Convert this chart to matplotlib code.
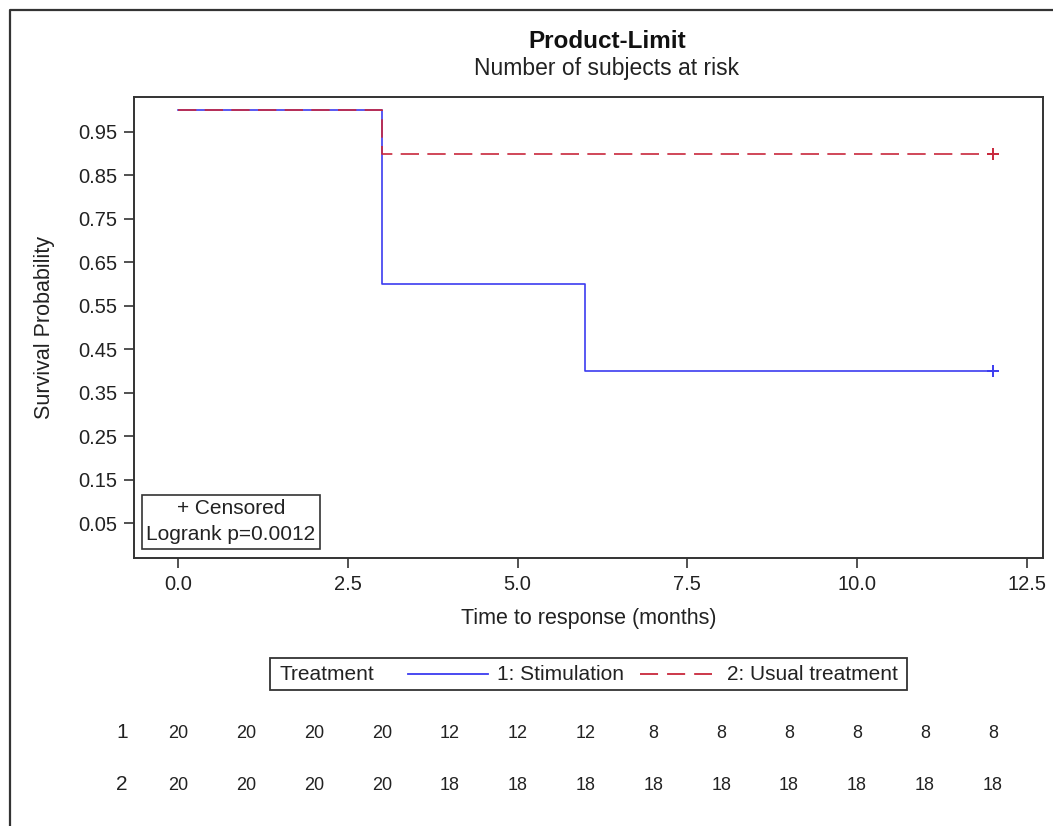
import matplotlib
matplotlib.use("Agg")
import matplotlib.pyplot as plt
from matplotlib.lines import Line2D
from matplotlib.patches import Rectangle
import matplotlib.transforms as mtransforms

plt.rcParams['font.family'] = ['Liberation Sans', 'DejaVu Sans']

# ---- data ----
times_stim = [0, 3, 6, 12]
surv_stim = [1.0, 0.6, 0.4, 0.4]
times_usual = [0, 3, 12]
surv_usual = [1.0, 0.9, 0.9]
censor_time_stim = [12]
censor_surv_stim = [0.4]
censor_time_usual = [12]
censor_surv_usual = [0.9]

risk_times = [0, 1, 2, 3, 4, 5, 6, 7, 8, 9, 10, 11, 12]
risk_stim = [20, 20, 20, 20, 12, 12, 12, 8, 8, 8, 8, 8, 8]
risk_usual = [20, 20, 20, 20, 18, 18, 18, 18, 18, 18, 18, 18, 18]

x_ticks = [0.0, 2.5, 5.0, 7.5, 10.0, 12.5]
y_ticks = [0.05, 0.15, 0.25, 0.35, 0.45, 0.55, 0.65, 0.75, 0.85, 0.95]

labels = ["1: Stimulation", "2: Usual treatment"]
BLUE = "#3c3cf0"
RED = "#c8283c"
DARK = "#333333"
TXT = "#222222"

W, H = 1053, 826
fig = plt.figure(figsize=(W / 100, H / 100), dpi=100)
ax = fig.add_axes([134 / W, 1 - 558 / H, (1043 - 134) / W, (558 - 97) / H])

ax.step(times_stim, surv_stim, where='post', color=BLUE, lw=1.2)
l2, = ax.step(times_usual, surv_usual, where='post', color=RED, lw=1.2)
l2.set_dashes([11, 5])
ax.plot(censor_time_stim, censor_surv_stim, '+', color=BLUE, ms=8, mew=1.4)
ax.plot(censor_time_usual, censor_surv_usual, '+', color=RED, ms=8, mew=1.4)

ax.set_xlim(-0.65, 12.74)
ax.set_ylim(-0.03, 1.03)
ax.set_xticks(x_ticks)
ax.set_xticklabels([f"{v:.1f}" for v in x_ticks])
ax.set_yticks(y_ticks)
ax.set_yticklabels([f"{v:.2f}" for v in y_ticks])
ax.tick_params(direction='out', length=7, width=1.2, color=DARK, labelsize=14.5,
               labelcolor=TXT, pad=5)
for s in ax.spines.values():
    s.set_linewidth(1.4)
    s.set_color(DARK)

ax.set_xlabel("Time to response (months)", fontsize=15.5, color=TXT, labelpad=10)
ax.set_ylabel("Survival Probability", fontsize=15.5, color=TXT, labelpad=17)

ax.text(0.1067, 0.079, "+ Censored\nLogrank p=0.0012", transform=ax.transAxes,
        ha='center', va='center', fontsize=15, color=TXT, linespacing=1.45,
        bbox=dict(boxstyle='square,pad=0.22', fc='white', ec=DARK, lw=1.2))

# titles
fig.text(607 / W, 1 - 41 / H, "Product-Limit", ha='center', va='center',
         fontsize=17.5, fontweight='bold', color='#111111')
fig.text(606 / W, 1 - 69 / H, "Number of subjects at risk", ha='center', va='center',
         fontsize=16.5, color=TXT)

# legend
ly = 1 - 674 / H
fig.patches.append(Rectangle((270 / W, 1 - 690 / H), (907 - 270) / W, 32 / H,
                             transform=fig.transFigure, fill=False, ec=DARK, lw=1.3))
fig.text(280 / W, ly, "Treatment", ha='left', va='center', fontsize=15, color=TXT)
fig.lines.append(Line2D([408 / W, 488 / W], [ly, ly], transform=fig.transFigure,
                        color=BLUE, lw=1.3))
fig.text(497 / W, ly, labels[0], ha='left', va='center', fontsize=15, color=TXT)
lr = Line2D([640 / W, 712 / W], [ly, ly], transform=fig.transFigure, color=RED, lw=1.3)
lr.set_dashes([10, 5])
fig.lines.append(lr)
fig.text(727 / W, ly, labels[1], ha='left', va='center', fontsize=15, color=TXT)

# at-risk table
tr = mtransforms.blended_transform_factory(ax.transData, fig.transFigure)
for yy, lab, vals in [(1 - 733 / H, "1", risk_stim), (1 - 785 / H, "2", risk_usual)]:
    fig.text(122 / W, yy, lab, ha='center', va='center', fontsize=15, color=TXT)
    for t, v in zip(risk_times, vals):
        ax.text(t, yy, str(v), transform=tr, ha='center', va='center',
                fontsize=13, color=TXT, clip_on=False)

# outer frame
fig.lines.append(Line2D([9.5 / W, 9.5 / W, 1.0], [0.0, 1 - 10 / H, 1 - 10 / H],
                        transform=fig.transFigure, color=DARK, lw=1.6))

fig.savefig("out.png", dpi=100, facecolor='white')
